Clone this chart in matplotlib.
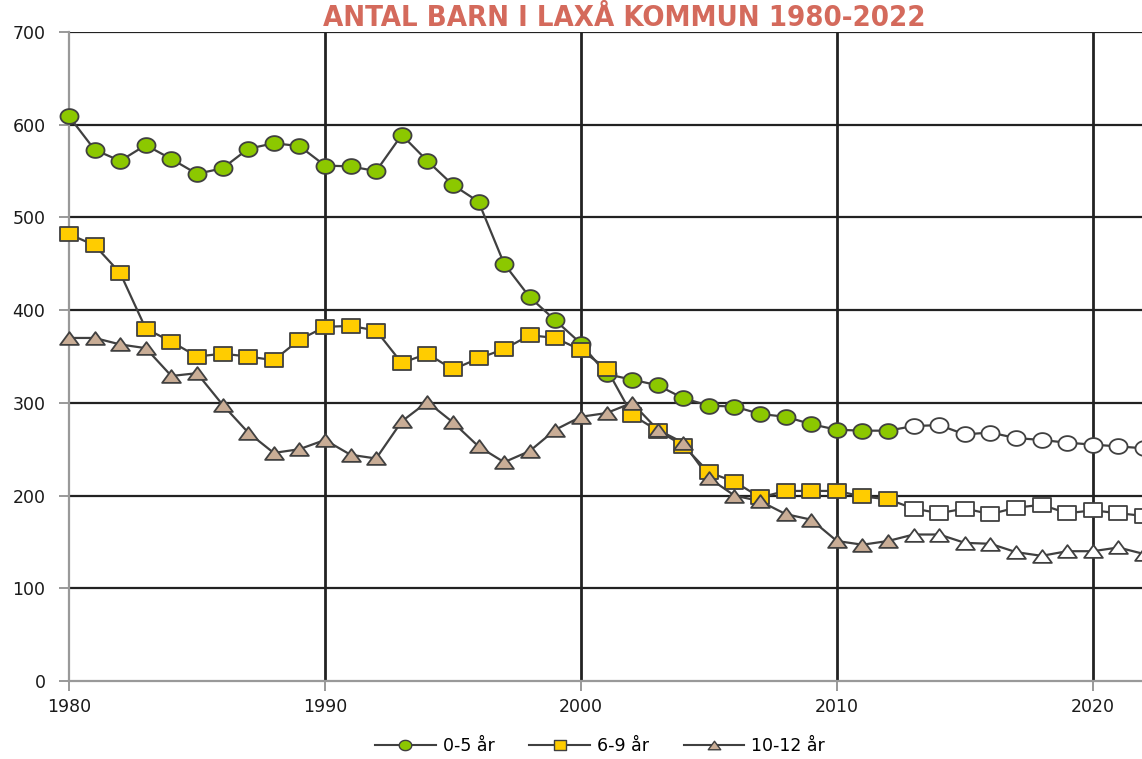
import matplotlib
matplotlib.use("Agg")
import numpy as np
import matplotlib.pyplot as plt
from matplotlib.lines import Line2D
from matplotlib.path import Path

years = list(range(1980, 2023))
last_actual = 2012

age_0_5 = [609, 573, 561, 578, 563, 547, 553, 574, 580, 577,
           556, 555, 550, 589, 561, 535, 517, 450, 414, 389,
           364, 331, 325, 319, 305, 297, 296, 288, 285, 277,
           271, 270, 270,
           275, 276, 266, 268, 262, 260, 257, 255, 253, 251]
age_6_9 = [482, 470, 440, 380, 366, 350, 353, 350, 346, 368,
           382, 383, 378, 343, 353, 336, 348, 358, 373, 370,
           357, 337, 287, 270, 254, 225, 215, 198, 205, 205,
           205, 199, 196,
           186, 181, 186, 180, 187, 190, 181, 184, 181, 178]
age_10_12 = [370, 370, 363, 359, 329, 332, 298, 268, 246, 250,
             260, 244, 240, 280, 301, 279, 253, 236, 248, 271,
             285, 289, 300, 271, 257, 219, 200, 194, 180, 174,
             151, 147, 151,
             158, 158, 149, 148, 139, 135, 140, 140, 144, 137]

labels = ["0-5 år", "6-9 år", "10-12 år"]
series = [age_0_5, age_6_9, age_10_12]
colors = ["#8cc800", "#ffcc00", "#c9ad96"]
yticks = [0, 100, 200, 300, 400, 500, 600, 700]
xticks = [1980, 1990, 2000, 2010, 2020]

# slightly wide marker shapes (as in the reference)
t = np.linspace(0, 2 * np.pi, 60)
ellipse = Path(np.column_stack([np.cos(t), 0.82 * np.sin(t)]), closed=True)
rect = Path([(-1, -0.82), (1, -0.82), (1, 0.82), (-1, 0.82), (-1, -0.82)], closed=True)
tri = Path([(0, 0.68), (-1, -0.68), (1, -0.68), (0, 0.68)], closed=True)
markers = [ellipse, rect, tri]
sizes = [13, 12.5, 13.5]

W, H = 1142, 759
fig = plt.figure(figsize=(W / 100, H / 100), dpi=100)
ax = fig.add_axes([69 / W, (H - 681) / H, (1144 - 69) / W, (681 - 32) / H])

line_col = "#404040"
n_act = years.index(last_actual) + 1
for vals, m, c, s in zip(series, markers, colors, sizes):
    ax.plot(years, vals, color=line_col, lw=1.6, zorder=3, clip_on=False)
    ax.plot(years[:n_act], vals[:n_act], ls="none", marker=m, ms=s,
            mfc=c, mec=line_col, mew=1.3, zorder=4, clip_on=False)
    ax.plot(years[n_act:], vals[n_act:], ls="none", marker=m, ms=s,
            mfc="white", mec=line_col, mew=1.3, zorder=4, clip_on=False)

ax.set_xlim(1980, 2022)
ax.set_ylim(0, 700)
ax.set_yticks(yticks)
ax.set_xticks(xticks)
for y in yticks[1:]:
    ax.axhline(y, color="#222222", lw=1.6, zorder=1)
for x in xticks[1:]:
    ax.axvline(x, color="#222222", lw=2.0, zorder=1)

for side in ["top", "right"]:
    ax.spines[side].set_visible(False)
for side in ["left", "bottom"]:
    ax.spines[side].set_color("#999999")
    ax.spines[side].set_linewidth(1.6)
ax.tick_params(axis="both", colors="#999999", length=7, width=1.4,
               labelcolor="#1a1a1a", labelsize=12.5)
ax.tick_params(axis="y", pad=10)
ax.tick_params(axis="x", pad=5)

fig.text(624 / W, 1 - 18 / H, "ANTAL BARN I LAXÅ KOMMUN 1980-2022",
         ha="center", va="center", fontsize=21, fontweight="bold",
         fontstretch="condensed", color="#d46a5c", family="DejaVu Sans")

handles = [Line2D([0], [0], color=line_col, lw=1.5, marker=m, ms=9,
                  mfc=c, mec=line_col, mew=1.0)
           for m, c in zip(markers, colors)]
fig.legend(handles, labels, loc="center", bbox_to_anchor=(600 / W, 1 - 746 / H),
           ncol=3, frameon=False, fontsize=12.5, handlelength=3.5,
           columnspacing=2.0, handletextpad=0.4)

fig.savefig("out.png", dpi=100)
